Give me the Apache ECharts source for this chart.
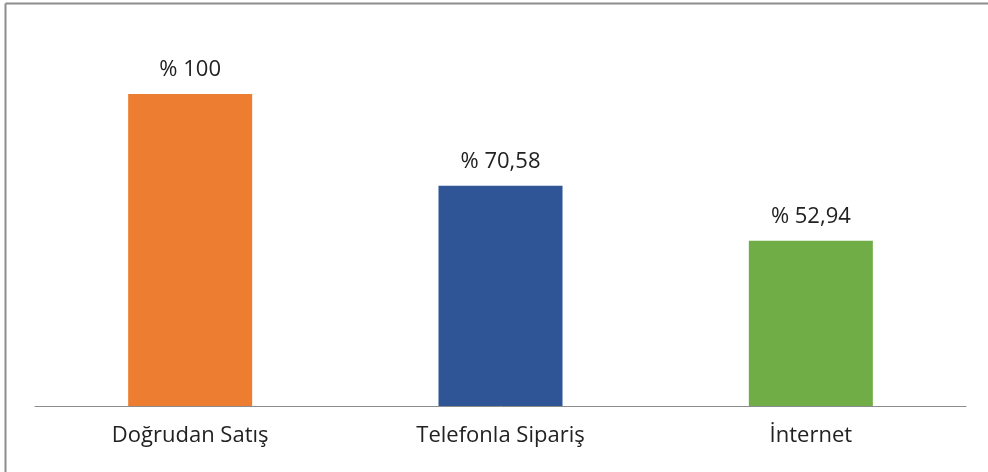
<!DOCTYPE html>
<html>
<head>
<meta charset="utf-8">
<script src="https://cdn.jsdelivr.net/npm/echarts@6/dist/echarts.min.js"></script>
<style>
html, body { margin: 0; padding: 0; background: #fff; }
#chart { width: 988px; height: 472px; }
</style>
</head>
<body>
<div id="chart"></div>
<script>
// kategoriler ve değerler
let categories = ['Doğrudan Satış', 'Telefonla Sipariş', 'İnternet'];
let values = [100, 70.58, 52.94];
let barColors = ['#ED7D31', '#2F5597', '#70AD47'];

let fmt = v => '% ' + String(v).replace('.', ',');

let chart = echarts.init(document.getElementById('chart'));
chart.setOption({
    animation: false,
    graphic: [
        { type: 'line', shape: { x1: 5.5, y1: 3.5, x2: 988, y2: 3.5 }, style: { stroke: '#8c8c8c', lineWidth: 2 } },
        { type: 'line', shape: { x1: 5.5, y1: 3.5, x2: 5.5, y2: 472 }, style: { stroke: '#8c8c8c', lineWidth: 2 } }
    ],
    grid: { left: 35, right: 22, top: 94, bottom: 66 },
    xAxis: {
        type: 'category',
        data: categories,
        axisTick: { show: false },
        axisLine: { lineStyle: { color: '#8c8c8c', width: 1 } },
        axisLabel: { color: '#222', fontSize: 22, fontFamily: 'Open Sans', margin: 19 }
    },
    yAxis: { type: 'value', min: 0, max: 100, show: false, splitLine: { show: false } },
    series: [{
        type: 'bar',
        barWidth: 124,
        data: values.map((v, i) => ({ value: v, itemStyle: { color: barColors[i] } })),
        label: {
            show: true,
            position: 'top',
            distance: 13,
            color: '#222',
            fontSize: 22,
            fontFamily: 'Open Sans',
            formatter: p => fmt(p.value)
        }
    }]
});
</script>
</body>
</html>
